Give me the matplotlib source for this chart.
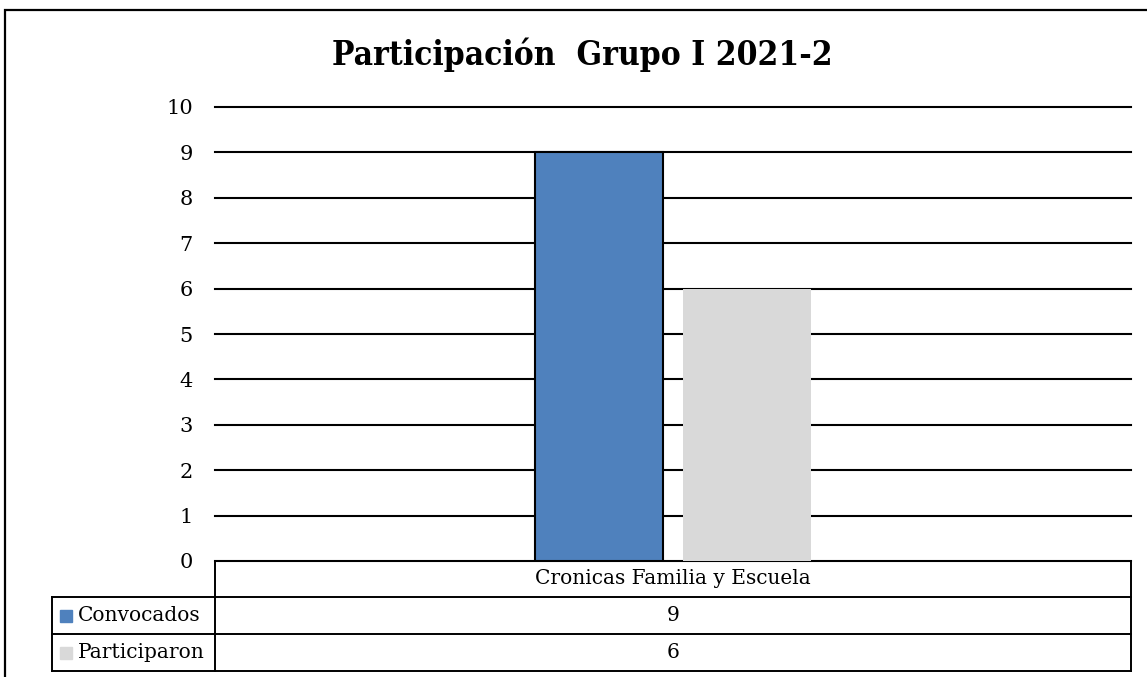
import matplotlib.pyplot as plt
from matplotlib.patches import Rectangle
from matplotlib.lines import Line2D

# chart data
title = 'Participación  Grupo I 2021-2'
categories = ['Cronicas Familia y Escuela']
series_names = ['Convocados', 'Participaron']
convocados = [9]
participaron = [6]
colors = ['#4F81BD', '#D9D9D9']
y_ticks = list(range(0, 11))

W, H = 1147, 677
plt.rcParams['font.family'] = ['DejaVu Serif']

fig = plt.figure(figsize=(W / 100, H / 100), dpi=100)


def px_box(x0, y0, x1, y1):
    # pixel box (top-left origin) -> figure fraction [left, bottom, width, height]
    return [x0 / W, 1 - y1 / H, (x1 - x0) / W, (y1 - y0) / H]


# outer chart border
fig.patches.append(Rectangle((5 / W, -0.1), 1.2, 1 - 10 / H + 0.1,
                             transform=fig.transFigure, fill=False,
                             edgecolor='black', linewidth=1.6))

fig.text(582 / W, 1 - 55 / H, title, ha='center', va='center',
         fontsize=24, fontweight='bold', fontstretch='condensed')

# plot area
ax = fig.add_axes(px_box(215, 107, 1131, 561))
x = list(range(len(categories)))
width = 0.14
off = 0.0805
ax.bar([i - off for i in x], convocados, width, color=colors[0],
       edgecolor='black', linewidth=1.5, zorder=3)
ax.bar([i + off for i in x], participaron, width, color=colors[1],
       zorder=3)
ax.set_xlim(-0.5, len(categories) - 0.5)
ax.set_ylim(0, 10)
ax.set_yticks(y_ticks)
ax.set_yticklabels([str(t) for t in y_ticks], fontsize=15)
ax.tick_params(axis='y', length=0, pad=16)
ax.set_xticks([])
for s in ax.spines.values():
    s.set_visible(False)
ax.yaxis.grid(True, color='black', linewidth=1.5, zorder=0)
ax.set_axisbelow(True)
for gl in ax.get_ygridlines():
    gl.set_clip_on(False)

# data table below the plot
tab = fig.add_axes(px_box(0, 561, W, 677))
tab.set_xlim(0, W)
tab.set_ylim(677, 561)
tab.axis('off')
lw = 1.4
left, mid, right = 52, 215, 1131
rows = [561, 597, 634, 671]
tab.add_line(Line2D([mid, right], [rows[0], rows[0]], color='black', lw=lw))
for r in rows[1:]:
    tab.add_line(Line2D([left, right], [r, r], color='black', lw=lw))
tab.add_line(Line2D([left, left], [rows[1], rows[3]], color='black', lw=lw))
tab.add_line(Line2D([mid, mid], [rows[0], rows[3]], color='black', lw=lw))
tab.add_line(Line2D([right, right], [rows[0], rows[3]], color='black', lw=lw))

cx = (mid + right) / 2
tab.text(cx, (rows[0] + rows[1]) / 2, categories[0], ha='center',
         va='center', fontsize=14.5)
values = [convocados, participaron]
for k, name in enumerate(series_names):
    yc = (rows[k + 1] + rows[k + 2]) / 2
    tab.add_patch(Rectangle((60, yc - 6), 12, 12, color=colors[k]))
    tab.text(78, yc, name, ha='left', va='center', fontsize=14.5)
    tab.text(cx, yc, str(values[k][0]), ha='center', va='center',
             fontsize=14.5)

fig.savefig('out.png', dpi=100)
